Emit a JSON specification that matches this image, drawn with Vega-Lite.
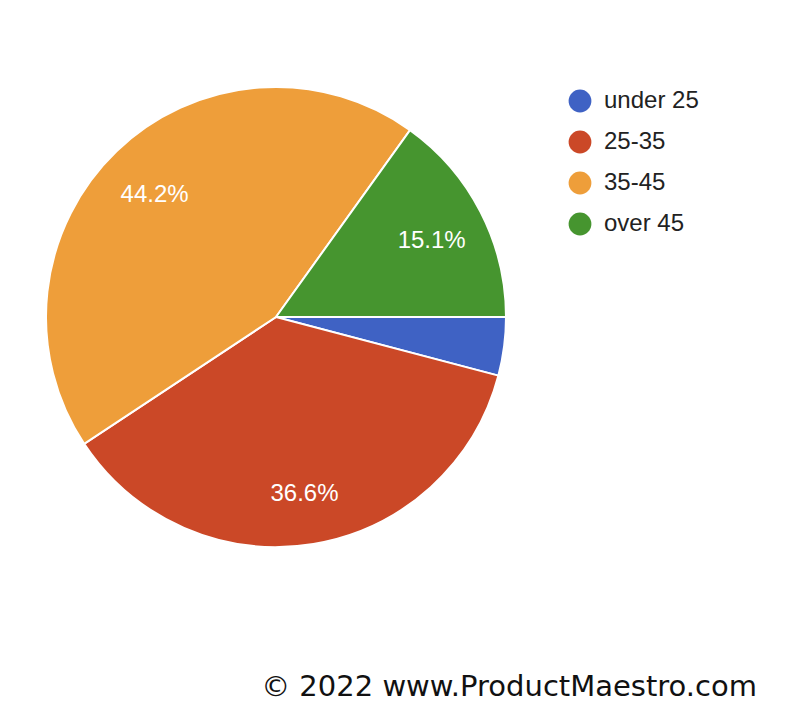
{
  "$schema": "https://vega.github.io/schema/vega-lite/v6.json",
  "autosize": "none",
  "width": 552,
  "height": 634,
  "padding": {"left": 0, "top": 0, "right": 236, "bottom": 84},
  "background": "white",
  "config": {"view": {"stroke": null}},
  "title": {
    "text": "© 2022 www.ProductMaestro.com",
    "orient": "bottom",
    "anchor": "end",
    "frame": "group",
    "dx": 205,
    "offset": 39,
    "font": "DejaVu Sans",
    "fontSize": 29,
    "fontWeight": "normal",
    "color": "#111111"
  },
  "data": {
    "values": [
      {"age": "under 25", "pct": 4.1, "label": ""},
      {"age": "25-35", "pct": 36.6, "label": "36.6%"},
      {"age": "35-45", "pct": 44.2, "label": "44.2%"},
      {"age": "over 45", "pct": 15.1, "label": "15.1%"}
    ]
  },
  "transform": [
    {"window": [{"op": "row_number", "as": "ord"}]}
  ],
  "encoding": {
    "theta": {"field": "pct", "type": "quantitative", "stack": true, "scale": {"range": [1.5707963, 7.8539816]}},
    "order": {"field": "ord", "type": "quantitative"}
  },
  "layer": [
    {
      "mark": {"type": "arc", "outerRadius": 230, "stroke": "white", "strokeWidth": 2},
      "encoding": {
        "color": {
          "field": "age",
          "type": "nominal",
          "sort": ["under 25", "25-35", "35-45", "over 45"],
          "scale": {"domain": ["under 25", "25-35", "35-45", "over 45"], "range": ["#3F62C4", "#CB4827", "#EE9E3A", "#46952F"]},
          "legend": {
            "title": null,
            "orient": "none",
            "legendX": 568,
            "legendY": 89,
            "symbolType": "circle",
            "symbolSize": 520,
            "symbolStrokeWidth": 0,
            "labelFont": "Liberation Sans",
            "labelFontSize": 24,
            "labelColor": "#222222",
            "labelOffset": 12,
            "rowPadding": 17,
            "symbolOpacity": 1
          }
        }
      }
    },
    {
      "mark": {"type": "text", "radius": 175, "dy": 4, "font": "Liberation Sans", "fontSize": 24, "color": "white"},
      "encoding": {
        "text": {"field": "label"}
      }
    }
  ]
}
